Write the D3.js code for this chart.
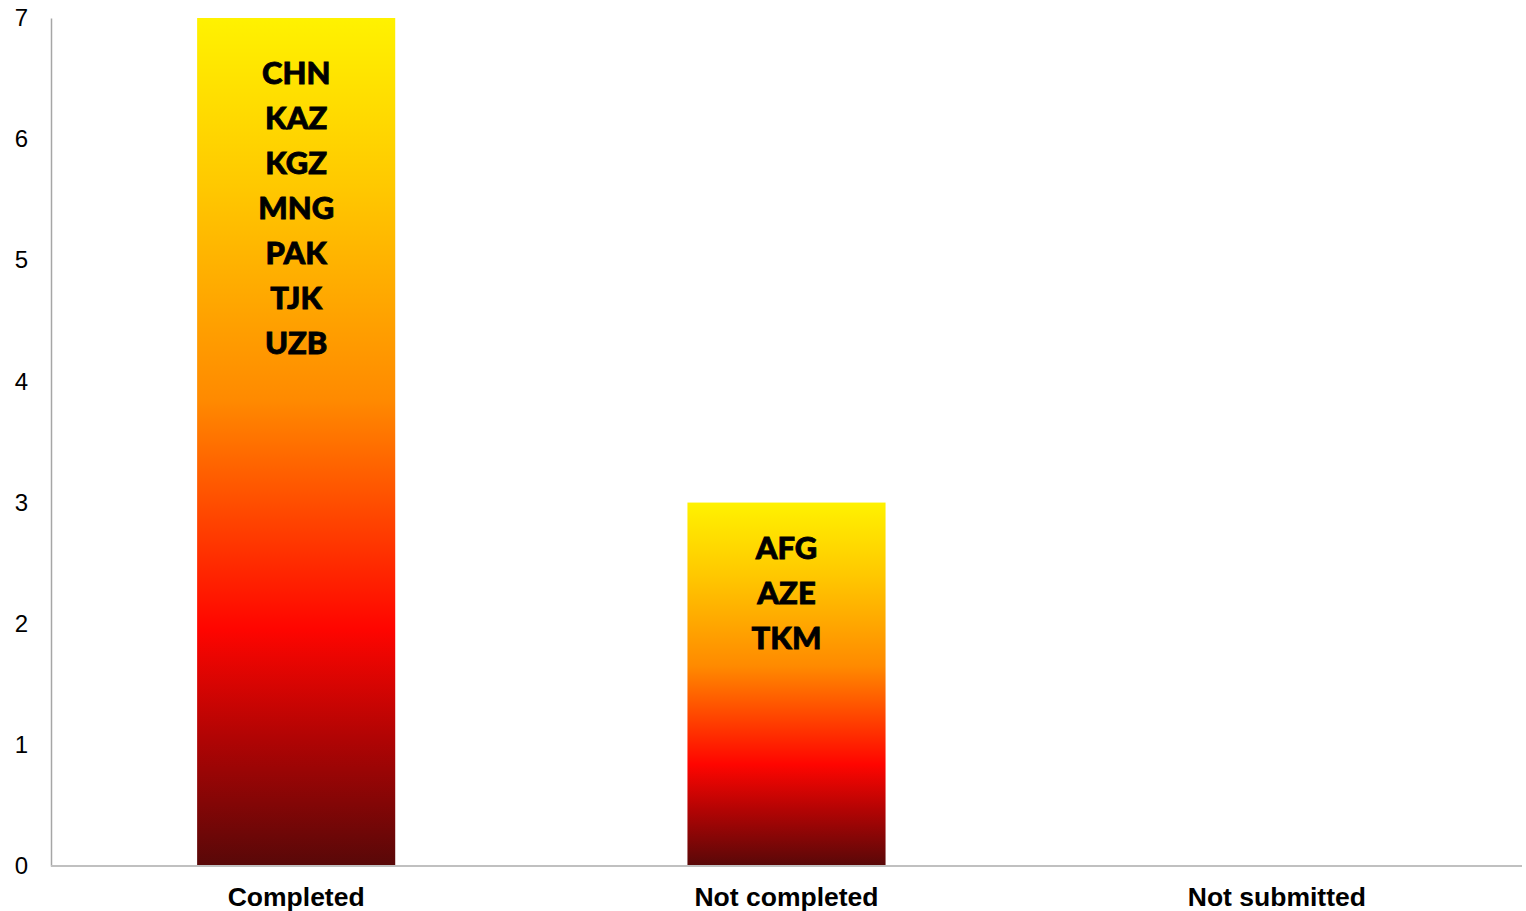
<!DOCTYPE html>
<html><head><meta charset="utf-8">
<script src="https://cdn.jsdelivr.net/npm/d3@7"></script>
<style>html,body{margin:0;padding:0;background:#fff;}svg{display:block;}</style>
</head><body>
<script>
const categories = ["Completed", "Not completed", "Not submitted"];
const counts = [7, 3, 0];
const countries = [
  ["CHN", "KAZ", "KGZ", "MNG", "PAK", "TJK", "UZB"],
  ["AFG", "AZE", "TKM"],
  []
];
const yTicks = [0, 1, 2, 3, 4, 5, 6, 7];

(function () {
const W = 1526, H = 911;
const mLeft = 51, mRight = 1522, mTop = 18, mBottom = 866;

const svg = d3.select("body").append("svg").attr("width", W).attr("height", H);

const defs = svg.append("defs");
const grad = defs.append("linearGradient").attr("id", "g").attr("x1", 0).attr("y1", 0).attr("x2", 0).attr("y2", 1);
[[0, "#FFF200"], [0.2, "#FFC800"], [0.45, "#FF8A00"], [0.72, "#FF0500"], [0.85, "#B00404"], [1, "#580808"]]
  .forEach(([o, c]) => grad.append("stop").attr("offset", o).attr("stop-color", c));

const x = d3.scaleBand().domain(categories).range([mLeft, mRight]).paddingInner(0.596).paddingOuter(0.298);
const y = d3.scaleLinear().domain([0, 7]).range([mBottom, mTop]);

const yAxis = svg.append("g").attr("transform", `translate(${mLeft},0)`)
  .call(d3.axisLeft(y).tickValues(yTicks).tickSize(0).tickPadding(23).tickFormat(d3.format("d")));
yAxis.select(".domain").attr("stroke", "#a6a6a6").attr("stroke-width", 1.5);
yAxis.selectAll("text").attr("font-family", "'Liberation Sans', Arial, sans-serif").attr("font-size", 24).attr("fill", "#000");

const data = categories.map((c, i) => ({c, v: counts[i], labels: countries[i]}));
svg.append("g").selectAll("rect").data(data.filter(d => d.v > 0)).join("rect")
  .attr("x", d => x(d.c)).attr("width", x.bandwidth())
  .attr("y", d => y(d.v)).attr("height", d => y(0) - y(d.v))
  .attr("fill", "url(#g)");

const xAxis = svg.append("g").attr("transform", `translate(0,${mBottom})`)
  .call(d3.axisBottom(x).tickSize(0).tickPadding(21));
xAxis.select(".domain").attr("stroke", "#c0c0c0").attr("stroke-width", 2).attr("d", `M${mLeft},0H${mRight}`);
xAxis.selectAll("text").attr("font-family", "'Liberation Sans', Arial, sans-serif").attr("font-size", 26.5)
  .attr("font-weight", "bold").attr("fill", "#000").attr("dy", "0.71em");

data.forEach(d => {
  const cx = x(d.c) + x.bandwidth() / 2;
  const h = y(0) - y(d.v);
  const first = y(d.v) + 50 + 0.0186 * h;
  svg.append("g").selectAll("text").data(d.labels).join("text")
    .attr("x", cx).attr("y", (t, i) => first + i * 45)
    .attr("text-anchor", "middle")
    .attr("font-family", "Lato, 'Open Sans', sans-serif").attr("font-weight", 900)
    .attr("font-size", 31).attr("fill", "#000")
    .attr("stroke", "#000").attr("stroke-width", 0.8)
    .text(t => t);
});
})();
</script>
</body></html>
